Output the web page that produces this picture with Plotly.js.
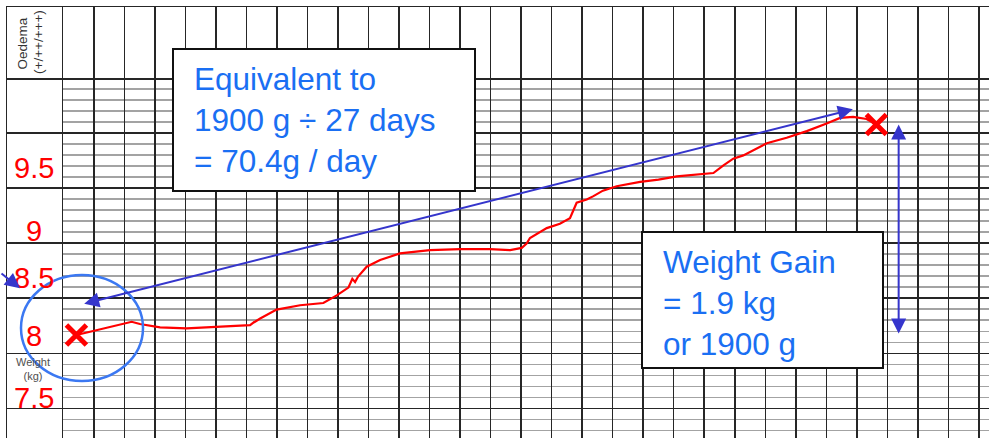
<!DOCTYPE html>
<html>
<head>
<meta charset="utf-8">
<script src="https://cdn.plot.ly/plotly-3.0.1.min.js"></script>
<style>
html,body{margin:0;padding:0;background:#fff;}
#chart{width:989px;height:438px;}
</style>
</head>
<body>
<div id="chart"></div>
<script>
// ---------- DATA ----------
// x: chart column (day), y: weight in kg
const days = [0.43, 2.24, 2.51, 3.17, 4.04, 6.12, 6.26, 6.22, 6.45, 6.99, 7.76, 8.52, 8.96, 9.34, 9.47, 9.56, 9.66, 9.94, 10.38, 11.03, 12.01, 13.00, 13.98, 14.64, 15.02, 15.18, 15.29, 15.62, 15.84, 16.27, 16.60, 16.71, 16.82, 17.15, 17.37, 17.68, 18.13, 18.90, 19.50, 20.10, 21.30, 21.63, 21.95, 22.28, 23.05, 23.70, 24.36, 25.01, 25.45, 25.88, 26.32, 26.64];
const weights = [8.00, 8.12, 8.10, 8.07, 8.06, 8.09, 8.12, 8.11, 8.15, 8.23, 8.27, 8.29, 8.36, 8.43, 8.51, 8.48, 8.53, 8.62, 8.68, 8.74, 8.77, 8.78, 8.78, 8.77, 8.79, 8.83, 8.88, 8.93, 8.97, 9.01, 9.06, 9.13, 9.20, 9.23, 9.26, 9.31, 9.35, 9.39, 9.41, 9.44, 9.47, 9.54, 9.60, 9.63, 9.74, 9.79, 9.85, 9.92, 9.97, 9.98, 9.96, 9.91];
const scaleValues = [9.5, 9, 8.5, 8, 7.5];
const scaleLabels = ['9.5', '9', '8.5', '8', '7.5'];
const rateText = ['Equivalent to', '1900 g \u00F7 27 days', '= 70.4g / day'];
const gainText = ['Weight Gain', '= 1.9 kg', 'or 1900 g'];
const oedemaLabels = ['Oedema', '(+/++/+++)'];
const weightAxisLabel = ['Weight', '(kg)'];

// ---------- LAYOUT HELPERS ----------
const W = 989, H = 438;
const px = x => x / W;            // pixel -> paper x
const py = y => 1 - y / H;        // pixel -> paper y
const DARK = '#262626', MINOR = '#a3a3a3';
const RED = '#ff0000', ARROW = '#3535cc', RING = '#3b78f2', TXT = '#1a6ff3';
const FONT = '"Liberation Sans", Arial, sans-serif';

const X_LEFT = px(7), X_DATA = px(63.3), Y_TOP = py(78.3), Y_BORDER = py(7);
const XR = [0, 30.33];
const YR = [7.0653, 10.3294];
const MAJOR0 = 7.834;
const arrowDay = 27.37;
const labelDay = -0.976;
const labelShift = [2, -6, 2, -1, -8];

const n = days.length;
const traces = [
  {type:'scatter', mode:'lines', x: days, y: weights, xaxis:'x', yaxis:'y',
   line:{color:RED, width:2.2, shape:'linear'}, hoverinfo:'skip'},
  {type:'scatter', mode:'markers', x:[days[0], days[n-1]], y:[weights[0], weights[n-1]], xaxis:'x', yaxis:'y',
   marker:{symbol:'x-thin', size:20, color:RED, line:{width:5, color:RED}}, cliponaxis:false, hoverinfo:'skip'},
  {type:'scatter', x:[], y:[], xaxis:'x2', yaxis:'y2', hoverinfo:'skip'},
  {type:'scatter', x:[], y:[], xaxis:'x3', yaxis:'y3', hoverinfo:'skip'},
  {type:'scatter', x:[], y:[], xaxis:'x4', yaxis:'y4', hoverinfo:'skip'}
];

const hidden = {showticklabels:false, ticks:'', zeroline:false, fixedrange:true};
const annotations = [];

scaleLabels.forEach((t, i) => annotations.push({
  xref:'x2', yref:'y2', x: labelDay, y: scaleValues[i], text: t, showarrow:false,
  xanchor:'center', yanchor:'middle', yshift: labelShift[i], borderpad:0,
  font:{family:FONT, size:29, color:RED}
}));

annotations.push({xref:'paper', yref:'paper', x:px(33), y:py(369), text: weightAxisLabel.join('<br>'),
  showarrow:false, xanchor:'center', yanchor:'middle', borderpad:0, font:{family:FONT, size:11, color:'#505050'}});
annotations.push({xref:'paper', yref:'paper', x:px(22), y:py(43.5), text: oedemaLabels[0], textangle:-90,
  showarrow:false, xanchor:'center', yanchor:'middle', font:{family:FONT, size:13.5, color:'#333'}});
annotations.push({xref:'paper', yref:'paper', x:px(38.5), y:py(42.5), text: oedemaLabels[1], textangle:-90,
  showarrow:false, xanchor:'center', yanchor:'middle', font:{family:FONT, size:13.5, color:'#333'}});

// text boxes
annotations.push({xref:'paper', yref:'paper', x:px(192), y:py(120), text: rateText.join('<br>'), align:'left',
  showarrow:false, xanchor:'left', yanchor:'middle', font:{family:FONT, size:31.5, color:TXT}});
annotations.push({xref:'paper', yref:'paper', x:px(661), y:py(303), text: gainText.join('<br>'), align:'left',
  showarrow:false, xanchor:'left', yanchor:'middle', font:{family:FONT, size:31.5, color:TXT}});

const arrowStyle = {text:'', showarrow:true, arrowhead:2, startarrowhead:2, arrowsize:1.5, startarrowsize:1.5,
  arrowwidth:2, arrowcolor:ARROW, standoff:0, startstandoff:0, font:{size:1}};
// diagonal double arrow (rate)
annotations.push(Object.assign({}, arrowStyle, {xref:'x', yref:'y', axref:'x', ayref:'y',
  x:25.87, y:10.048, ax:0.636, ay:8.281, arrowside:'end+start'}));
// vertical double arrow (gain) between the first and last weights
annotations.push(Object.assign({}, arrowStyle, {xref:'x', yref:'y', axref:'x', ayref:'y',
  x:arrowDay, y:weights[n-1], ax:arrowDay, ay:weights[0], arrowside:'end+start'}));
// small arrow at left edge
annotations.push(Object.assign({}, arrowStyle, {xref:'paper', yref:'paper', x:px(20), y:py(288.3), ax:-24, ay:-16,
  arrowside:'end'}));

const shapes = [
  {type:'rect', xref:'paper', yref:'paper', x0:px(173), x1:px(475), y0:py(191), y1:py(49),
   fillcolor:'#fff', line:{color:'#111', width:2}, layer:'above'},
  {type:'rect', xref:'paper', yref:'paper', x0:px(642), x1:px(883), y0:py(368), y1:py(232),
   fillcolor:'#fff', line:{color:'#111', width:2}, layer:'above'},
  {type:'circle', xref:'paper', yref:'paper', x0:px(21), x1:px(143), y0:py(381), y1:py(275),
   line:{color:RING, width:2.5}, layer:'above'}
];

const layout = {
  width: W, height: H,
  margin:{l:0, r:0, t:0, b:0, pad:0},
  paper_bgcolor:'#fff', plot_bgcolor:'#fff',
  showlegend:false,
  xaxis: Object.assign({}, hidden, {domain:[X_DATA, 1], range:XR, tick0:0, dtick:1,
    showgrid:true, gridcolor:DARK, gridwidth:1.5, showline:false, anchor:'y'}),
  yaxis: Object.assign({}, hidden, {domain:[0, Y_TOP], range:YR, tick0:MAJOR0, dtick:0.5,
    showgrid:true, gridcolor:DARK, gridwidth:1.5,
    minor:{tick0:MAJOR0, dtick:0.1, showgrid:true, gridcolor:MINOR, gridwidth:1.5, ticks:''},
    showline:true, linecolor:DARK, linewidth:1.5, anchor:'x'}),
  xaxis2: Object.assign({}, hidden, {domain:[X_LEFT, X_DATA], range:[-1.845, 0], showgrid:false, anchor:'y2'}),
  yaxis2: Object.assign({}, hidden, {domain:[0, Y_TOP], range:YR, tick0:MAJOR0, dtick:0.5,
    showgrid:true, gridcolor:DARK, gridwidth:1.5, showline:true, linecolor:DARK, linewidth:1.5, anchor:'x2'}),
  xaxis3: Object.assign({}, hidden, {domain:[X_DATA, 1], range:XR, tick0:0, dtick:1,
    showgrid:true, gridcolor:DARK, gridwidth:1.5, showline:true, mirror:true, linecolor:DARK, linewidth:1.5, anchor:'y3'}),
  yaxis3: Object.assign({}, hidden, {domain:[Y_TOP, Y_BORDER], range:[0, 1], showgrid:false,
    showline:true, linecolor:DARK, linewidth:1.5, anchor:'x3'}),
  xaxis4: Object.assign({}, hidden, {domain:[X_LEFT, X_DATA], range:[0, 1], showgrid:false,
    showline:true, mirror:true, linecolor:DARK, linewidth:1.5, anchor:'y4'}),
  yaxis4: Object.assign({}, hidden, {domain:[Y_TOP, Y_BORDER], range:[0, 1], showgrid:false,
    showline:true, linecolor:DARK, linewidth:1.5, anchor:'x4'}),
  annotations: annotations,
  shapes: shapes
};

Plotly.newPlot('chart', traces, layout, {staticPlot:true, displayModeBar:false});
</script>
</body>
</html>
